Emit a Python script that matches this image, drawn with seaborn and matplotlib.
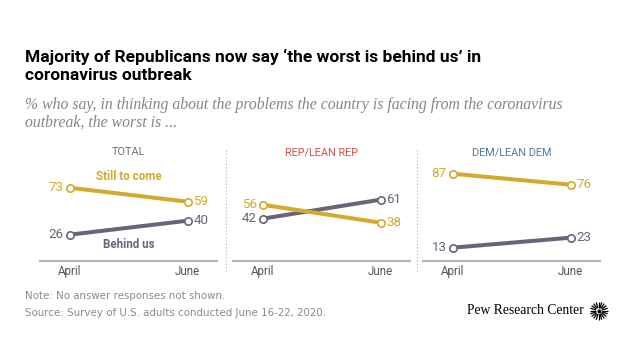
import numpy as np
import pandas as pd
import seaborn as sns
import matplotlib.pyplot as plt

# Data
months = ["April", "June"]
groups = ["TOTAL", "REP/LEAN REP", "DEM/LEAN DEM"]
still_to_come = [[73, 59], [56, 38], [87, 76]]
behind_us = [[26, 40], [42, 61], [13, 23]]

GOLD = "#D3A92F"
PURPLE = "#6C6379"
title_colors = ["#707070", "#C9524B", "#4F7A98"]

sns.set_theme(style="white")
plt.rcParams["font.family"] = ["Roboto", "DejaVu Sans"]

rows = []
for g, stc, bhd in zip(groups, still_to_come, behind_us):
    for i, m in enumerate(months):
        rows.append({"group": g, "month": i, "answer": "Still to come", "pct": stc[i]})
        rows.append({"group": g, "month": i, "answer": "Behind us", "pct": bhd[i]})
df = pd.DataFrame(rows)

W, H = 640, 360
fig = plt.figure(figsize=(6.4, 3.6), dpi=100)

# header
fig.text(25 / W, 1 - 57 / H, "Majority of Republicans now say \u2018the worst is behind us\u2019 in",
         fontsize=12.5, fontweight="bold", color="black", va="center")
fig.text(25 / W, 1 - 75 / H, "coronavirus outbreak",
         fontsize=12.5, fontweight="bold", color="black", va="center")
sub_font = ["Liberation Serif", "DejaVu Serif"]
fig.text(25 / W, 1 - 105 / H,
         "% who say, in thinking about the problems the country is facing from the coronavirus",
         fontsize=11.3, style="italic", color="#858585", va="center", family=sub_font)
fig.text(25 / W, 1 - 123 / H, "outbreak, the worst is ...",
         fontsize=11.3, style="italic", color="#858585", va="center", family=sub_font)

lefts = [40, 233, 423]
for k, g in enumerate(groups):
    ax = fig.add_axes([lefts[k] / W, (H - 260.7) / H, 177 / W, 100 / H])
    sub = df[df["group"] == g]
    sns.lineplot(data=sub, x="month", y="pct", hue="answer",
                 palette={"Still to come": GOLD, "Behind us": PURPLE},
                 hue_order=["Behind us", "Still to come"],
                 linewidth=2.9, legend=False, ax=ax, zorder=2)
    for ans, col in [("Still to come", GOLD), ("Behind us", PURPLE)]:
        s = sub[sub["answer"] == ans]
        ax.scatter(s["month"], s["pct"], s=28, facecolor="white", edgecolor=col,
                   linewidth=1.2, zorder=3)
        for x, v in zip(s["month"], s["pct"]):
            if x == 0:
                ax.text(x - 0.05, v, str(v), ha="right", va="center", fontsize=9.6,
                        color=col)
            else:
                ax.text(x + 0.05, v, str(v), ha="left", va="center", fontsize=9.6,
                        color=col)
    ax.set_xlim(-0.25, 1.25)
    ax.set_ylim(0, 100)
    ax.set_xticks([0, 1])
    ax.set_xticklabels(months, fontsize=8.4, color="#555555")
    ax.tick_params(axis="x", length=0, pad=3)
    ax.set_yticks([])
    ax.set_xlabel("")
    ax.set_ylabel("")
    for sp in ["top", "right", "left"]:
        ax.spines[sp].set_visible(False)
    ax.spines["bottom"].set_color("#b5b5b5")
    ax.spines["bottom"].set_linewidth(1.5)
    ax.patch.set_alpha(0)
    ax.text(0.5, 1.087, g, transform=ax.transAxes, ha="center", va="center",
            fontsize=7.8, color=title_colors[k])
    if k == 0:
        ax.text(0.5, 84.7, "Still to come", ha="center", va="center", fontsize=8.4,
                fontweight="bold", color=GOLD)
        ax.text(0.5, 16.7, "Behind us", ha="center", va="center", fontsize=8.4,
                fontweight="bold", color=PURPLE)

# dotted separators
for xs in [226, 417]:
    fig.add_artist(plt.Line2D([xs / W, xs / W], [1 - 150 / H, 1 - 272 / H],
                              color="#b0b0b0", linestyle=(0, (1, 2)), linewidth=0.8))

# footer
fig.text(25 / W, 1 - 296 / H, "Note: No answer responses not shown.",
         fontsize=7.4, color="#8a8a8a", va="center", family=["DejaVu Sans"])
fig.text(25 / W, 1 - 313 / H, "Source: Survey of U.S. adults conducted June 16-22, 2020.",
         fontsize=7.4, color="#8a8a8a", va="center", family=["DejaVu Sans"])
fig.text(584 / W, 1 - 311 / H, "Pew Research Center", fontsize=9.8, ha="right",
         va="center", color="black", family=["Liberation Serif"])

# starburst logo
lax = fig.add_axes([589 / W, 1 - 321 / H, 20 / W, 20 / H])
for a in np.linspace(0, 2 * np.pi, 20, endpoint=False):
    lax.plot([0.35 * np.cos(a), np.cos(a)], [0.35 * np.sin(a), np.sin(a)],
             color="black", linewidth=0.9, solid_capstyle="butt")
lax.scatter([0], [0], s=9, color="black", linewidths=0)
lax.set_xlim(-1.1, 1.1)
lax.set_ylim(-1.1, 1.1)
lax.axis("off")

fig.savefig("out.png", dpi=100)
